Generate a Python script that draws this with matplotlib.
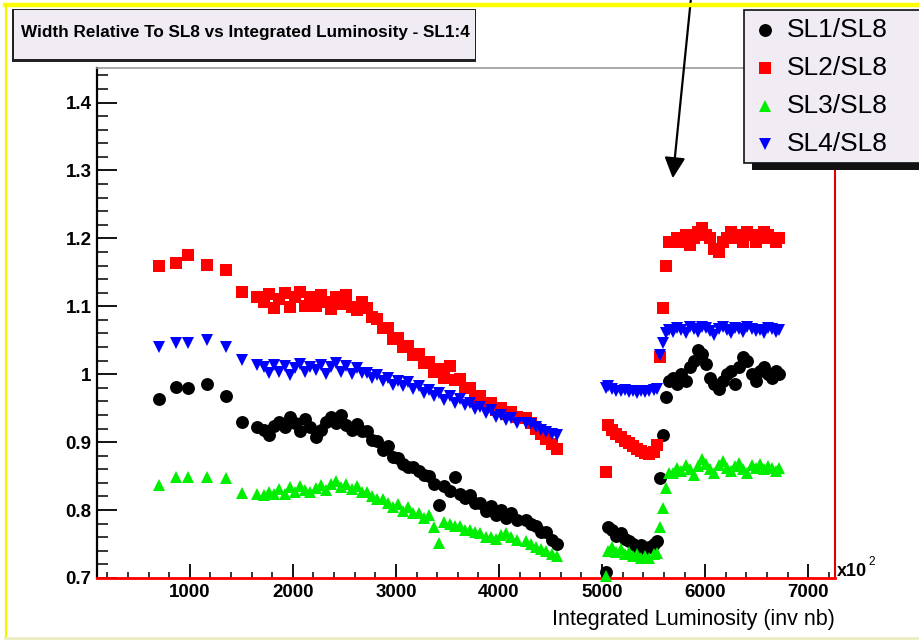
import matplotlib
matplotlib.use("Agg")
import matplotlib.pyplot as plt
from matplotlib.patches import Rectangle, FancyArrowPatch
from matplotlib.lines import Line2D
from matplotlib.ticker import MultipleLocator, FixedLocator

plt.rcParams['font.family'] = ['Liberation Sans', 'DejaVu Sans']

# ---------------- data ----------------
lum = [700, 870, 985, 1165, 1350, 1510, 1650,
       1720, 1770, 1820, 1870, 1920, 1970, 2020, 2070, 2120, 2170,
       2220, 2270, 2320, 2370, 2420, 2470, 2520, 2570, 2620, 2670,
       2720, 2770, 2820, 2870, 2920, 2970, 3020, 3070, 3120, 3170,
       3220, 3270, 3320, 3370, 3420, 3470, 3520, 3570, 3620, 3670,
       3720, 3770, 3820, 3870, 3920, 3970, 4020, 4070, 4120, 4170,
       4260, 4310, 4360, 4410, 4460, 4510, 4560,
       5040, 5060, 5100, 5140, 5180, 5220, 5260, 5300, 5340, 5380, 5420, 5460, 5500, 5530,
       5560, 5590, 5620, 5650,
       5690, 5730, 5770, 5810, 5850, 5890, 5930, 5970, 6010, 6050, 6090, 6130, 6170, 6210,
       6250, 6290, 6330, 6370, 6410, 6450, 6490, 6530, 6570, 6610, 6650, 6690, 6720]

sl1 = [0.963, 0.981, 0.979, 0.985, 0.968, 0.929, 0.922,
       0.918, 0.910, 0.924, 0.930, 0.922, 0.937, 0.928, 0.917, 0.934, 0.922,
       0.908, 0.918, 0.930, 0.937, 0.928, 0.940, 0.925, 0.918, 0.927, 0.916,
       0.917, 0.903, 0.902, 0.888, 0.894, 0.878, 0.877, 0.868, 0.864, 0.864,
       0.857, 0.852, 0.850, 0.838, 0.808, 0.835, 0.828, 0.848, 0.823, 0.818,
       0.822, 0.810, 0.810, 0.798, 0.806, 0.793, 0.800, 0.788, 0.796, 0.786,
       0.785, 0.780, 0.777, 0.768, 0.767, 0.756, 0.750,
       0.709, 0.775, 0.770, 0.762, 0.766, 0.758, 0.755, 0.750, 0.745, 0.748, 0.742, 0.745, 0.750, 0.755,
       0.847, 0.910, 0.966, 0.990,
       0.995, 0.985, 1.000, 0.990, 1.010, 1.020, 1.035, 1.030, 1.015, 0.995, 0.985, 0.978, 0.990, 1.000,
       1.005, 0.985, 1.010, 1.025, 1.020, 1.000, 0.990, 1.005, 1.010, 1.000, 0.995, 1.005, 1.000]

sl2 = [1.159, 1.163, 1.175, 1.161, 1.154, 1.121, 1.113,
       1.106, 1.118, 1.097, 1.110, 1.120, 1.099, 1.113, 1.121, 1.101, 1.114,
       1.100, 1.117, 1.106, 1.096, 1.114, 1.103, 1.116, 1.099, 1.095, 1.106,
       1.097, 1.084, 1.082, 1.068, 1.068, 1.052, 1.053, 1.040, 1.041, 1.028,
       1.030, 1.016, 1.018, 1.004, 1.007, 0.995, 1.012, 0.992, 0.993, 0.980,
       0.979, 0.967, 0.968, 0.957, 0.958, 0.948, 0.951, 0.942, 0.945, 0.937,
       0.935, 0.928, 0.920, 0.912, 0.905, 0.897, 0.890,
       0.856, 0.925, 0.918, 0.912, 0.907, 0.902, 0.899, 0.895, 0.890, 0.887, 0.884, 0.882, 0.885, 0.896,
       1.025, 1.097, 1.160, 1.195,
       1.195, 1.200, 1.195, 1.205, 1.190, 1.200, 1.210, 1.215, 1.205, 1.200, 1.185, 1.180, 1.195, 1.200,
       1.210, 1.205, 1.200, 1.195, 1.210, 1.205, 1.195, 1.200, 1.210, 1.205, 1.200, 1.195, 1.200]

sl3 = [0.837, 0.849, 0.848, 0.849, 0.847, 0.825, 0.824,
       0.822, 0.827, 0.823, 0.831, 0.824, 0.834, 0.827, 0.835, 0.829, 0.826,
       0.833, 0.837, 0.829, 0.839, 0.843, 0.834, 0.839, 0.831, 0.836, 0.827,
       0.826, 0.821, 0.816, 0.817, 0.811, 0.804, 0.809, 0.799, 0.804, 0.796,
       0.796, 0.789, 0.793, 0.775, 0.752, 0.783, 0.779, 0.776, 0.777, 0.771,
       0.771, 0.767, 0.766, 0.761, 0.761, 0.757, 0.763, 0.766, 0.760, 0.756,
       0.755, 0.750, 0.745, 0.742, 0.740, 0.735, 0.732,
       0.703, 0.740, 0.745, 0.738, 0.742, 0.735, 0.738, 0.732, 0.735, 0.730, 0.733, 0.730, 0.735, 0.737,
       0.775, 0.803, 0.832, 0.855,
       0.855, 0.862, 0.858, 0.866, 0.860, 0.852, 0.865, 0.875, 0.868, 0.860, 0.855, 0.866, 0.872, 0.862,
       0.858, 0.865, 0.870, 0.860, 0.855, 0.866, 0.862, 0.868, 0.860, 0.865, 0.862, 0.858, 0.862]

sl4 = [1.040, 1.046, 1.046, 1.051, 1.040, 1.021, 1.013,
       1.010, 1.002, 1.014, 1.004, 1.012, 0.999, 1.009, 1.015, 1.003, 1.011,
       1.006, 1.014, 1.001, 1.011, 1.016, 1.004, 1.012, 1.000, 1.009, 1.002,
       1.002, 0.995, 0.999, 0.990, 0.994, 0.984, 0.990, 0.982, 0.988, 0.978,
       0.982, 0.973, 0.977, 0.968, 0.972, 0.962, 0.968, 0.958, 0.963, 0.955,
       0.957, 0.949, 0.952, 0.943, 0.947, 0.937, 0.940, 0.932, 0.935, 0.928,
       0.928, 0.926, 0.922, 0.918, 0.915, 0.912, 0.910,
       0.980, 0.982, 0.978, 0.976, 0.975, 0.977, 0.974, 0.975, 0.973, 0.975, 0.974, 0.976, 0.977, 0.978,
       1.028, 1.046, 1.060, 1.065,
       1.062, 1.068, 1.065, 1.060, 1.070, 1.066, 1.062, 1.070, 1.068, 1.063, 1.058, 1.066, 1.070, 1.065,
       1.060, 1.068, 1.066, 1.062, 1.070, 1.067, 1.063, 1.065, 1.060, 1.068, 1.066, 1.062, 1.065]

series_names = ["SL1/SL8", "SL2/SL8", "SL3/SL8", "SL4/SL8"]
title_text = "Width Relative To SL8 vs Integrated Luminosity - SL1:4"
xlabel_text = "Integrated Luminosity (inv nb)"
ytick_vals = [0.7, 0.8, 0.9, 1.0, 1.1, 1.2, 1.3, 1.4]
ytick_labels = ["0.7", "0.8", "0.9", "1", "1.1", "1.2", "1.3", "1.4"]
xtick_vals = [1000, 2000, 3000, 4000, 5000, 6000, 7000]
xtick_labels = ["1000", "2000", "3000", "4000", "5000", "6000", "7000"]

# ---------------- figure ----------------
W, H = 919, 640
fig = plt.figure(figsize=(W / 100, H / 100), dpi=100)
fig.patch.set_facecolor("white")

def fx(px):
    return px / W

def fy(py):
    return 1 - py / H

ax = fig.add_axes([fx(97), fy(578), (835 - 97) / W, (578 - 68) / H])
ax.set_xlim(100, 7260)
ax.set_ylim(0.7, 1.4508)

styles = [("o", "#000000", 9.3), ("s", "#ff0000", 9.2), ("^", "#00ee00", 8.4), ("v", "#0000ff", 9.0)]
for yv, (mk, col, ms) in zip([sl1, sl2, sl3, sl4], styles):
    ax.plot(lum, yv, linestyle="none", marker=mk, color=col, markersize=ms,
            markeredgewidth=0, clip_on=False, zorder=3)

# spines
ax.spines["left"].set_color("black")
ax.spines["left"].set_linewidth(1.6)
ax.spines["bottom"].set_color("#ff0000")
ax.spines["bottom"].set_linewidth(2.0)
ax.spines["right"].set_color("#e00000")
ax.spines["right"].set_linewidth(1.5)
ax.spines["top"].set_color("#999999")
ax.spines["top"].set_linewidth(1.2)

ax.yaxis.set_major_locator(FixedLocator(ytick_vals))
ax.set_yticklabels(ytick_labels)
ax.yaxis.set_minor_locator(MultipleLocator(0.02))
ax.xaxis.set_major_locator(FixedLocator(xtick_vals))
ax.set_xticklabels(xtick_labels)
ax.xaxis.set_minor_locator(MultipleLocator(200))

ax.tick_params(axis="y", which="major", direction="in", length=14.5, width=1.3,
               color="black", pad=4, labelsize=13.5)
ax.tick_params(axis="y", which="minor", direction="in", length=7.8, width=1.1, color="black")
ax.tick_params(axis="x", which="major", direction="in", length=10, width=1.3,
               color="black", pad=4, labelsize=13.5)
ax.tick_params(axis="x", which="minor", direction="in", length=4.5, width=1.1, color="black")
for lab in ax.get_xticklabels() + ax.get_yticklabels():
    lab.set_fontweight("bold")

# x10^2 and axis label
fig.text(fx(837), fy(571), "x10", fontsize=13, fontweight="bold", ha="left", va="center")
fig.text(fx(868), fy(562), "2", fontsize=8.5, ha="left", va="center")
fig.text(fx(835), fy(620), xlabel_text, fontsize=15.5, ha="right", va="center")

# title box
fig.add_artist(Rectangle((fx(12), fy(62)), (476 - 12) / W, (62 - 9) / H, transform=fig.transFigure,
                         facecolor="#222222", edgecolor="none", zorder=5))
fig.add_artist(Rectangle((fx(14), fy(58.5)), (474.5 - 14) / W, (58.5 - 9.5) / H,
                         transform=fig.transFigure, facecolor="#f1ebf3", edgecolor="none", zorder=6))
fig.text(fx(21), fy(32), title_text, fontsize=12.3, fontweight="bold", ha="left", va="center", zorder=7)

# legend box (shadow + box)
fig.add_artist(Rectangle((fx(752), fy(170)), (930 - 752) / W, (170 - 18) / H, transform=fig.transFigure,
                         facecolor="#111111", edgecolor="none", zorder=5))
fig.add_artist(Rectangle((fx(744), fy(163)), (935 - 744) / W, (163 - 10) / H, transform=fig.transFigure,
                         facecolor="#f1ebf3", edgecolor="#111111", linewidth=1.2, zorder=6))
leg_rows = [30, 68, 106, 144]
for name, (mk, col, ms), ry in zip(series_names, styles, leg_rows):
    fig.add_artist(Line2D([fx(765)], [fy(ry)], transform=fig.transFigure, linestyle="none",
                          marker=mk, color=col, markersize=ms, markeredgewidth=0, zorder=7))
    fig.text(fx(787), fy(ry), name, fontsize=19, ha="left", va="center", zorder=7)

# arrow
fig.add_artist(FancyArrowPatch((fx(691), fy(-2)), (fx(672.5), fy(181)), transform=fig.transFigure,
                               arrowstyle="-|>,head_length=0.9,head_width=0.45", mutation_scale=14,
                               color="black", linewidth=1.6, zorder=8))

# yellow frame
fig.add_artist(Line2D([fx(5), fx(919)], [fy(5), fy(5)], transform=fig.transFigure,
                      color="#ffff00", linewidth=3.2, zorder=9))
fig.add_artist(Line2D([fx(6), fx(6)], [fy(5), fy(637)], transform=fig.transFigure,
                      color="#f4f400", linewidth=1.6, zorder=9))
fig.add_artist(Line2D([fx(5), fx(919)], [fy(637.5), fy(637.5)], transform=fig.transFigure,
                      color="#e8ecb8", linewidth=1.8, zorder=9))

fig.savefig("out.png", dpi=100)
